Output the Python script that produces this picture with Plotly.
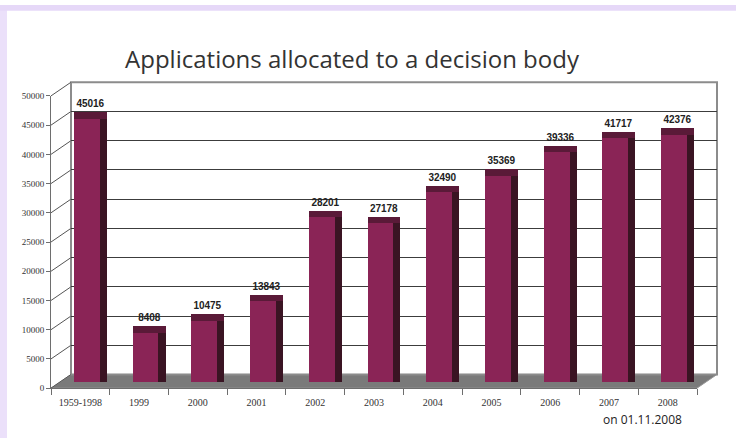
import plotly.graph_objects as go

# ---- data ----
categories = ["1959-1998", "1999", "2000", "2001", "2002", "2003",
              "2004", "2005", "2006", "2007", "2008"]
values = [45016, 8408, 10475, 13843, 28201, 27178, 32490, 35369, 39336, 41717, 42376]
y_ticks = [0, 5000, 10000, 15000, 20000, 25000, 30000, 35000, 40000, 45000, 50000]
title_text = "Applications allocated to a decision body"
note_text = "on 01.11.2008"

# ---- layout geometry (pixels) ----
W, H = 736, 443
def fx(px): return px / W
def fy(py): return 1 - py / H

FRONT_L, FRONT_R = 51, 697     # front x axis
FRONT_0, FRONT_TOP = 392, 93   # front y axis (0 and 50000)
DX, DY = 20, 14                # depth offset of back wall
BAR_0, BAR_TOP = 386, 87       # bars (0 and 50000)
YMAX = 50000
CAP = 1150                     # height of bar top face (style)

fig = go.Figure()

# back wall grid subplot (x / y)
fig.add_trace(go.Scatter(x=categories, y=values, mode="markers",
                         marker=dict(opacity=0), hoverinfo="skip",
                         showlegend=False, xaxis="x", yaxis="y"))
# bars (x2 / y2)
fig.add_trace(go.Bar(x=categories, y=values, width=0.44, offset=-0.11,
                     marker=dict(color="#8a2456", line=dict(width=0)),
                     hoverinfo="x+y", showlegend=False, xaxis="x2", yaxis="y2"))
fig.add_trace(go.Bar(x=categories, y=values, width=0.12, offset=0.33,
                     marker=dict(color="#3a1423", line=dict(width=0)),
                     hoverinfo="skip", showlegend=False, xaxis="x2", yaxis="y2"))
fig.add_trace(go.Bar(x=categories, y=[CAP] * len(values), base=values,
                     width=0.56, offset=-0.11,
                     marker=dict(color="#5a1a38", line=dict(width=0)),
                     text=values, texttemplate="<b>%{text}</b>",
                     textposition="outside", constraintext="none",
                     cliponaxis=False,
                     textfont=dict(family="Arial", size=10, color="#222222"),
                     hoverinfo="skip", showlegend=False, xaxis="x2", yaxis="y2"))
# front axes (x3 / y3)
fig.add_trace(go.Scatter(x=categories, y=values, mode="markers",
                         marker=dict(opacity=0), hoverinfo="skip",
                         showlegend=False, xaxis="x3", yaxis="y3"))

shapes = []
# lavender frame strips (left and top)
shapes.append(dict(type="rect", xref="paper", yref="paper", x0=0, x1=fx(7), y0=0, y1=1,
                   fillcolor="#ebe0fa", line=dict(width=0), layer="below"))
shapes.append(dict(type="rect", xref="paper", yref="paper", x0=0, x1=1, y0=fy(6), y1=1,
                   fillcolor="#e6d8f8", line=dict(width=0), layer="below"))
# floor
floor_path = (f"M {fx(FRONT_L)},{fy(FRONT_0)} L {fx(FRONT_R)},{fy(FRONT_0)} "
              f"L {fx(FRONT_R + DX)},{fy(FRONT_0 - DY)} L {fx(FRONT_L + DX)},{fy(FRONT_0 - DY)} Z")
shapes.append(dict(type="path", xref="paper", yref="paper", path=floor_path,
                   fillcolor="#7a7a7a", line=dict(color="#9a9a9a", width=1), layer="below"))
# back wall border
shapes.append(dict(type="rect", xref="paper", yref="paper",
                   x0=fx(FRONT_L + DX), x1=fx(FRONT_R + DX),
                   y0=fy(FRONT_0 - DY), y1=fy(FRONT_TOP - DY),
                   line=dict(color="#8c8c8c", width=2), layer="below"))
# diagonal tick connectors on the left side wall
scale = (FRONT_0 - FRONT_TOP) / YMAX
for v in y_ticks:
    py = FRONT_0 - v * scale
    shapes.append(dict(type="line", xref="paper", yref="paper",
                       x0=fx(FRONT_L), y0=fy(py), x1=fx(FRONT_L + DX), y1=fy(py - DY),
                       line=dict(color="#555555", width=1), layer="below"))
# left wall vertical edge
shapes.append(dict(type="line", xref="paper", yref="paper",
                   x0=fx(FRONT_L + DX), x1=fx(FRONT_L + DX),
                   y0=fy(FRONT_0 - DY), y1=fy(FRONT_TOP - DY),
                   line=dict(color="#8c8c8c", width=1), layer="below"))

serif = "Liberation Serif, Times New Roman, serif"

fig.update_layout(
    width=W, height=H,
    margin=dict(l=0, r=0, t=0, b=0),
    paper_bgcolor="white",
    plot_bgcolor="rgba(0,0,0,0)",
    barmode="overlay",
    bargap=0,
    showlegend=False,
    title=dict(text=title_text, x=fx(352), xanchor="center", y=fy(60), yanchor="middle",
               font=dict(family="Open Sans", size=24, color="#333333")),
    shapes=shapes,
    annotations=[dict(text=note_text, xref="paper", yref="paper",
                      x=fx(684), y=fy(424), xanchor="right", yanchor="middle",
                      showarrow=False,
                      font=dict(family="Open Sans", size=12, color="#222222"))],
    # back wall grid
    xaxis=dict(domain=[fx(FRONT_L + DX), fx(FRONT_R + DX)], anchor="y",
               type="category", range=[-0.5, 10.5], visible=False, fixedrange=True),
    yaxis=dict(domain=[fy(FRONT_0 - DY), fy(FRONT_TOP - DY)], anchor="x",
               range=[0, YMAX], tickvals=y_ticks, showticklabels=False, ticks="",
               showgrid=True, gridcolor="#3c3c3c", gridwidth=1,
               zeroline=False, showline=False, fixedrange=True),
    # bars
    xaxis2=dict(domain=[fx(FRONT_L), fx(FRONT_R)], anchor="y2",
                type="category", range=[-0.5, 10.5], visible=False, fixedrange=True),
    yaxis2=dict(domain=[fy(BAR_0), fy(BAR_TOP)], anchor="x2",
                range=[0, YMAX], visible=False, fixedrange=True),
    # front axes
    xaxis3=dict(domain=[fx(FRONT_L), fx(FRONT_R)], anchor="y3",
                type="category", range=[-0.5, 10.5],
                showline=True, linecolor="#6e6e6e", linewidth=1,
                ticks="outside", ticklen=6, tickcolor="#6e6e6e", tickson="boundaries",
                ticklabelstandoff=5,
                showgrid=False, zeroline=False,
                tickfont=dict(family=serif, size=10, color="#333333"), fixedrange=True),
    yaxis3=dict(domain=[fy(FRONT_0), fy(FRONT_TOP)], anchor="x3",
                range=[0, YMAX], tickvals=y_ticks, tickformat="d",
                showline=True, linecolor="#6e6e6e", linewidth=1,
                ticks="outside", ticklen=4, tickcolor="#6e6e6e",
                showgrid=False, zeroline=False,
                tickfont=dict(family=serif, size=9, color="#333333"), fixedrange=True),
)

# remove the default 8px page margin so the figure fills the window exactly
fig.write_html("out.html", config={"displayModeBar": False},
               post_script="document.body.style.margin='0';")
